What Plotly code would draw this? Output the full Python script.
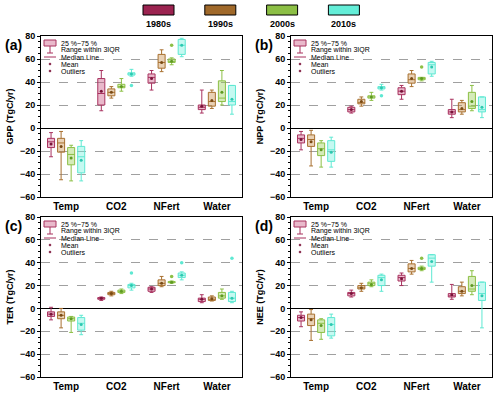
import plotly.graph_objects as go

CATEGORIES = ['Temp', 'CO2', 'NFert', 'Water']
DECADES = ['1980s', '1990s', '2000s', '2010s']
LINE_COLOURS = ['#a8325f', '#a8702f', '#8cbf45', '#5ee8d2']
FILL_COLOURS = ['rgba(200,80,125,0.40)', 'rgba(200,140,70,0.40)',
                'rgba(150,205,80,0.40)', 'rgba(110,240,220,0.40)']
MEAN_COLOURS = ['#7a1238', '#7a4a14', '#5f9a22', '#2cc8b0']
LEGEND_COLOURS = ['#9b2350', '#a0692a', '#8cbf45', '#64eed8']

# rows = decades (1980s..2010s), columns = Temp, CO2, NFert, Water
gpp_lower = [[-25, 15, 33, 13], [-45, 26, 49, 17], [-46, 32, 55, 20], [-46, 45, 62, 12]]
gpp_q1 = [[-17, 20, 39, 16], [-21, 28, 52, 19], [-32, 35, 57, 23], [-39, 46, 64, 20]]
gpp_median = [[-12, 30, 44, 18], [-13, 31, 57, 23], [-23, 36, 58, 26], [-25, 47, 72, 23]]
gpp_q3 = [[-9, 43, 47, 20], [-9, 34, 64, 31], [-17, 38, 60, 41], [-16, 48, 77, 37]]
gpp_upper = [[-4, 50, 50, 33], [-3, 36, 68, 33], [-15, 43, 61, 50], [-11, 51, 78, 37]]
gpp_mean = [[-14, 32, 43, 19], [-16, 31, 57, 24], [-26, 36, 58, 31], [-28, 47, 72, 25]]
gpp_outliers = [('CO2', '2010s', 37), ('NFert', '2000s', 72)]

npp_lower = [[-19, 13, 25, 9], [-33, 19, 36, 12], [-34, 24, 41, 15], [-34, 33, 45, 9]]
npp_q1 = [[-13, 14, 29, 12], [-16, 21, 39, 14], [-24, 26, 42, 17], [-29, 34, 47, 14]]
npp_median = [[-9, 16, 32, 14], [-10, 22, 42, 16], [-18, 27, 43, 19], [-19, 35, 55, 16]]
npp_q3 = [[-6, 18, 35, 16], [-6, 25, 47, 22], [-13, 28, 44, 31], [-11, 36, 57, 27]]
npp_upper = [[-3, 19, 37, 25], [-2, 27, 50, 24], [-11, 31, 44, 37], [-8, 38, 58, 27]]
npp_mean = [[-10, 16, 32, 14], [-12, 23, 43, 17], [-19, 27, 43, 23], [-21, 35, 53, 18]]
npp_outliers = [('CO2', '2010s', 28), ('NFert', '2000s', 53)]

ter_lower = [[-10, 7, 14, 5], [-17, 11, 19, 6.5], [-21, 13, 22, 8], [-23, 16, 25, 5]]
ter_q1 = [[-7, 8, 15, 6], [-9, 12, 20, 7], [-11, 14, 22.5, 9], [-19, 18, 27, 6]]
ter_median = [[-5, 9, 17, 8], [-6, 13, 22, 8], [-9, 15, 23, 11], [-13, 20, 29, 9]]
ter_q3 = [[-3, 9.5, 18.5, 9], [-3, 14, 25, 10], [-7.5, 16, 23.5, 14], [-8, 21, 31, 14]]
ter_upper = [[1, 10, 19, 12], [0, 15, 28, 11], [-7, 17, 24, 17], [-6, 22, 32, 15]]
ter_mean = [[-5, 9, 17, 8], [-6, 13, 22, 8.5], [-9, 15, 23, 11], [-14, 20, 29, 9]]
ter_outliers = [('CO2', '2010s', 31), ('NFert', '2000s', 28),
                ('NFert', '2010s', 40), ('Water', '2010s', 44)]

nee_lower = [[-16, 10, 20, 8], [-28, 15, 30, 11], [-27, 19, 33, 12], [-26, 15, 23, -17]]
nee_q1 = [[-11, 11, 24, 10], [-15, 17, 32, 13], [-21, 20, 34, 15], [-24, 20, 37, 7]]
nee_median = [[-8, 13, 27, 11], [-9, 18, 35, 15], [-13, 22, 35, 17], [-14, 27, 44, 13]]
nee_q3 = [[-6, 14, 29, 13], [-5, 20, 39, 19], [-10, 23, 36, 28], [-8, 29, 47, 23]]
nee_upper = [[-3, 16, 31, 21], [-1, 22, 42, 23], [-9, 25, 37, 33], [-5, 30, 47, 23]]
nee_mean = [[-8, 13, 26, 12], [-10, 18, 35, 15], [-15, 21, 35, 20], [-14, 25, 41, 11]]
nee_outliers = [('NFert', '2000s', 44)]

PANELS = [
    ('(a)', 'GPP (TgC/yr)', gpp_lower, gpp_q1, gpp_median, gpp_q3, gpp_upper, gpp_mean, gpp_outliers),
    ('(b)', 'NPP (TgC/yr)', npp_lower, npp_q1, npp_median, npp_q3, npp_upper, npp_mean, npp_outliers),
    ('(c)', 'TER (TgC/yr)', ter_lower, ter_q1, ter_median, ter_q3, ter_upper, ter_mean, ter_outliers),
    ('(d)', 'NEE (TgC/yr)', nee_lower, nee_q1, nee_median, nee_q3, nee_upper, nee_mean, nee_outliers),
]

W, H = 500, 396
FONT = 'Liberation Sans'
STEP = 0.2   # spacing of decades inside a category
# panel pixel boxes: left, right, top, bottom
PANEL_PX = [(41, 242, 36, 197), (291, 492, 36, 197),
            (41, 242, 217, 377), (291, 492, 217, 377)]


def pos(cat_idx, dec_idx):
    return cat_idx + (dec_idx - 1.5) * STEP


fig = go.Figure()
layout = {}
shapes = []
annotations = []

for p, (tag, ytitle, lo, q1, med, q3, hi, mean, outl) in enumerate(PANELS):
    n = '' if p == 0 else str(p + 1)
    xa, ya = 'x' + n, 'y' + n
    for d in range(4):
        xs = [pos(c, d) for c in range(4)]
        fig.add_trace(go.Box(
            x=xs, q1=q1[d], median=med[d], q3=q3[d],
            lowerfence=lo[d], upperfence=hi[d],
            width=0.14, whiskerwidth=0.55,
            line=dict(color=LINE_COLOURS[d], width=1),
            fillcolor=FILL_COLOURS[d],
            xaxis=xa, yaxis=ya, showlegend=False, hoverinfo='skip'))
        fig.add_trace(go.Scatter(
            x=xs, y=mean[d], mode='markers',
            marker=dict(size=3, color=MEAN_COLOURS[d]),
            xaxis=xa, yaxis=ya, showlegend=False, hoverinfo='skip'))
    ox = [pos(CATEGORIES.index(c), DECADES.index(dd)) for c, dd, v in outl]
    oy = [v for c, dd, v in outl]
    oc = [LINE_COLOURS[DECADES.index(dd)] for c, dd, v in outl]
    fig.add_trace(go.Scatter(
        x=ox, y=oy, mode='markers', marker=dict(size=3.5, color=oc),
        xaxis=xa, yaxis=ya, showlegend=False, hoverinfo='skip'))

    l, r, t, b = PANEL_PX[p]
    layout['xaxis' + n] = dict(
        domain=[l / W, r / W], anchor=ya, range=[-0.5, 3.5], automargin=False,
        tickvals=list(range(4)), ticktext=CATEGORIES, ticks='',
        showline=True, mirror=True, linecolor='black', linewidth=1,
        showgrid=False, zeroline=False,
        tickfont=dict(family=FONT, size=10, color='black', weight='bold'))
    layout['yaxis' + n] = dict(
        domain=[1 - b / H, 1 - t / H], anchor=xa, range=[-60, 80], automargin=False,
        dtick=20, ticks='outside', ticklen=3, tickcolor='black',
        minor=dict(ticks='outside', ticklen=2, dtick=5, tickcolor='black'),
        showline=True, mirror=True, linecolor='black', linewidth=1,
        showgrid=True, gridcolor='#a0a0a0', griddash='dash', gridwidth=1,
        zeroline=True, zerolinecolor='black', zerolinewidth=1,
        tickfont=dict(family=FONT, size=9, color='black', weight='bold'),
        title=dict(text=ytitle, standoff=4,
                   font=dict(family=FONT, size=9, color='black', weight='bold')))

    # panel tag
    annotations.append(dict(
        text=tag, x=(l - 38) / W, y=1 - (t + 9) / H, xref='paper', yref='paper',
        xanchor='left', yanchor='middle', showarrow=False,
        font=dict(family=FONT, size=14, color='black', weight='bold')))

    # in-panel key, drawn in the 1980s colour
    xr, yr = xa + ' domain', ya + ' domain'
    pw, ph = r - l, b - t

    def fx(px):
        return px / pw

    def fy(py):
        return 1 - py / ph

    shapes.append(dict(type='line', xref=xr, yref=yr, x0=fx(9), x1=fx(9), y0=fy(10), y1=fy(17),
                       line=dict(color=LINE_COLOURS[0], width=1)))
    shapes.append(dict(type='line', xref=xr, yref=yr, x0=fx(6), x1=fx(12), y0=fy(17), y1=fy(17),
                       line=dict(color=LINE_COLOURS[0], width=1)))
    shapes.append(dict(type='rect', xref=xr, yref=yr, x0=fx(3), x1=fx(15), y0=fy(4), y1=fy(10),
                       line=dict(color=LINE_COLOURS[0], width=1), fillcolor=FILL_COLOURS[0]))
    shapes.append(dict(type='line', xref=xr, yref=yr, x0=fx(3), x1=fx(15), y0=fy(21), y1=fy(21),
                       line=dict(color=LINE_COLOURS[0], width=1)))
    for yy in (28, 35):
        shapes.append(dict(type='circle', xref=xr, yref=yr, x0=fx(8), x1=fx(10),
                           y0=fy(yy - 1), y1=fy(yy + 1),
                           line=dict(color=MEAN_COLOURS[0], width=0.5), fillcolor=MEAN_COLOURS[0]))
    for k, txt in enumerate(['25 %~75 %', 'Range within 3IQR', 'Median Line', 'Mean', 'Outliers']):
        annotations.append(dict(
            text=txt, x=fx(18), y=fy(7 + 7 * k), xref=xr, yref=yr,
            xanchor='left', yanchor='middle', showarrow=False,
            font=dict(family=FONT, size=7, color='black')))

# top decade key
for d, dec in enumerate(DECADES):
    x0 = 143 + 61.8 * d
    shapes.append(dict(type='rect', xref='paper', yref='paper',
                       x0=x0 / W, x1=(x0 + 31) / W, y0=1 - 15 / H, y1=1 - 5 / H,
                       line=dict(color='black', width=1), fillcolor=LEGEND_COLOURS[d]))
    annotations.append(dict(
        text=dec, x=(x0 + 15.5) / W, y=1 - 24.5 / H, xref='paper', yref='paper',
        xanchor='center', yanchor='middle', showarrow=False,
        font=dict(family=FONT, size=9, color='black', weight='bold')))

fig.update_layout(
    width=W, height=H, margin=dict(l=0, r=0, t=0, b=0),
    paper_bgcolor='white', plot_bgcolor='white', boxmode='overlay',
    shapes=shapes, annotations=annotations, **layout)

# the page body has a default margin; drop it so the figure sits at the corner
fig.write_html("out.html", config={'displayModeBar': False},
               post_script="document.body.style.margin='0';")
